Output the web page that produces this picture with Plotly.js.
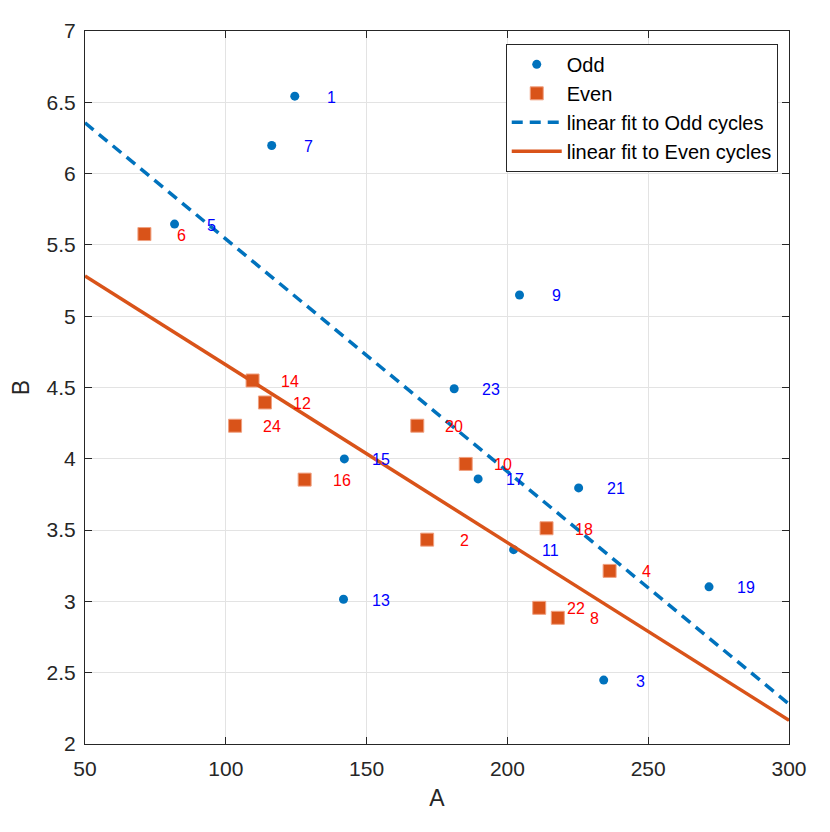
<!DOCTYPE html>
<html>
<head>
<meta charset="utf-8">
<script src="https://cdn.plot.ly/plotly-3.0.1.min.js"></script>
<style>html,body{margin:0;padding:0;background:#fff;}#chart{width:830px;height:832px;}</style>
</head>
<body>
<div id="chart"></div>
<script>
// Odd cycles
const oddCycles = [1, 3, 5, 7, 9, 11, 13, 15, 17, 19, 21, 23];
const oddA = [124.5, 234.2, 81.8, 116.3, 204.3, 202.2, 141.8, 142.1, 189.6, 271.6, 225.3, 181.1];
const oddB = [6.543, 2.448, 5.646, 6.197, 5.149, 3.363, 3.015, 3.999, 3.859, 3.102, 3.796, 4.491];
// Even cycles
const evenCycles = [2, 4, 6, 8, 10, 12, 14, 16, 18, 20, 22, 24];
const evenA = [171.5, 236.3, 71.1, 217.9, 185.2, 113.9, 109.5, 128.0, 213.9, 168.0, 211.3, 103.3];
const evenB = [3.433, 3.214, 5.576, 2.885, 3.964, 4.395, 4.549, 3.854, 3.513, 4.232, 2.955, 4.232];
// Linear fits (end points)
const oddFitA = [50, 300];
const oddFitB = [6.356, 2.28];
const evenFitA = [50, 300];
const evenFitB = [5.282, 2.166];
// Ticks
const xTicks = [50, 100, 150, 200, 250, 300];
const yTicks = [2, 2.5, 3, 3.5, 4, 4.5, 5, 5.5, 6, 6.5, 7];

const FONT = "Liberation Sans, Arial, Helvetica, sans-serif";
const blue = '#0072BD', orange = '#D95319';

const traces = [
  {x: oddA, y: oddB, type: 'scatter', mode: 'markers', name: 'Odd',
   marker: {symbol: 'circle', size: 9, color: blue}},
  {x: evenA, y: evenB, type: 'scatter', mode: 'markers', name: 'Even',
   marker: {symbol: 'square', size: 13, color: orange, line: {color: '#f0a080', width: 1}}},
  {x: oddFitA, y: oddFitB, type: 'scatter', mode: 'lines', name: 'linear fit to Odd cycles',
   line: {color: blue, width: 3.5, dash: '11px,7px'}},
  {x: evenFitA, y: evenFitB, type: 'scatter', mode: 'lines', name: 'linear fit to Even cycles',
   line: {color: orange, width: 3.5}}
];

const annotations = [];
oddCycles.forEach((c, i) => annotations.push({
  x: oddA[i], y: oddB[i], xref: 'x', yref: 'y', text: String(c), showarrow: false,
  xanchor: 'center', yanchor: 'middle', xshift: 37, yshift: -1,
  font: {family: FONT, size: 16, color: '#0000FF'}
}));
evenCycles.forEach((c, i) => annotations.push({
  x: evenA[i], y: evenB[i], xref: 'x', yref: 'y', text: String(c), showarrow: false,
  xanchor: 'center', yanchor: 'middle', xshift: 37, yshift: -1,
  font: {family: FONT, size: 16, color: '#FF0000'}
}));

const axisCommon = {
  showline: true, linecolor: '#262626', linewidth: 1, mirror: 'allticks',
  ticks: 'inside', ticklen: 7, tickcolor: '#262626', tickwidth: 1,
  showgrid: true, gridcolor: '#e3e3e3', gridwidth: 1, zeroline: false,
  tickfont: {family: FONT, size: 21, color: '#262626'}
};

const layout = {
  width: 830, height: 832,
  margin: {l: 85, r: 41, t: 31, b: 88},
  paper_bgcolor: '#fff', plot_bgcolor: '#fff',
  font: {family: FONT, color: '#262626'},
  showlegend: true,
  xaxis: Object.assign({}, axisCommon, {
    range: [50, 300], tickmode: 'array', tickvals: xTicks, ticktext: xTicks.map(String),
    ticklabelstandoff: 6,
    title: {text: 'A', font: {family: FONT, size: 23, color: '#262626'}, standoff: 10}
  }),
  yaxis: Object.assign({}, axisCommon, {
    range: [2, 7], tickmode: 'array', tickvals: yTicks, ticktext: yTicks.map(String),
    ticklabelstandoff: 4,
    title: {text: 'B', font: {family: FONT, size: 23, color: '#262626'}, standoff: 10}
  }),
  legend: {
    x: 0.984, xanchor: 'right', y: 0.982, yanchor: 'top',
    bgcolor: '#fff', bordercolor: '#262626', borderwidth: 1,
    font: {family: FONT, size: 20, color: '#000'},
    itemwidth: 50, tracegroupgap: 0
  },
  annotations: annotations
};

Plotly.newPlot('chart', traces, layout, {displayModeBar: false, staticPlot: true});
</script>
</body>
</html>
